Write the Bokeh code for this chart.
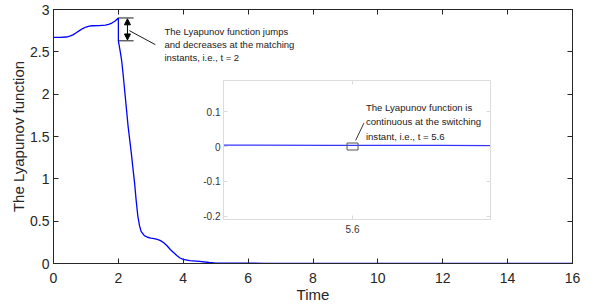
from bokeh.plotting import figure
from bokeh.models import Range1d, LinearAxis, FixedTicker, Arrow, NormalHead, ColumnDataSource
from bokeh.layouts import column
from bokeh.core.properties import value
from bokeh.embed import file_html
from bokeh.resources import INLINE

# ---------------- data ----------------
t_vals = [0, 0.2, 0.4, 0.5, 0.6, 0.7, 0.8, 0.9, 1.0, 1.1, 1.2, 1.4, 1.6, 1.7, 1.8, 1.9, 2.0,
          2.0, 2.05, 2.1, 2.15, 2.2, 2.25, 2.3, 2.35, 2.4, 2.45, 2.5, 2.55, 2.6, 2.65, 2.7,
          2.8, 2.9, 3.0, 3.1, 3.2, 3.3, 3.4, 3.5, 3.6, 3.7, 3.8, 3.9, 4.0, 4.2, 4.5, 4.8, 5.0,
          5.5, 6.0, 6.5, 7.0, 8.0, 10, 12, 14, 16]
V_vals = [2.67, 2.67, 2.675, 2.685, 2.70, 2.725, 2.75, 2.775, 2.793, 2.803, 2.808, 2.81, 2.815,
          2.825, 2.84, 2.865, 2.90,
          2.63, 2.52, 2.40, 2.22, 2.02, 1.82, 1.62, 1.46, 1.30, 1.12, 0.95, 0.74, 0.56, 0.45, 0.38,
          0.33, 0.31, 0.30, 0.295, 0.285, 0.27, 0.245, 0.21, 0.165, 0.13, 0.094, 0.065, 0.048,
          0.035, 0.025, 0.012, 0.004, 0.0035, 0.003, 0.0025, 0.002, 0.001, 0.0004, 0.0002, 0.0001, 0.0]

x_ticks = [0, 2, 4, 6, 8, 10, 12, 14, 16]
x_tick_labels = ["0", "2", "4", "6", "8", "10", "12", "14", "16"]
y_ticks = [0, 0.5, 1, 1.5, 2, 2.5, 3]
y_tick_labels = ["0", "0.5", "1", "1.5", "2", "2.5", "3"]

inset_x_ticks = [5.6]
inset_x_tick_labels = ["5.6"]
inset_y_ticks = [-0.2, -0.1, 0, 0.1]
inset_y_tick_labels = ["-0.2", "-0.1", "0", "0.1"]

jump_t = 2.0
jump_before = 2.90
jump_after = 2.63
switch_t = 5.6
switch_V = 0.0

note_main = "The Lyapunov function jumps\nand decreases at the matching\ninstants, i.e., t = 2"
note_inset = "The Lyapunov function is\ncontinuous at the switching\ninstant, i.e., t = 5.6"

FONT = "Liberation Sans"
DARK = "#262626"
BLUE = "#0000ff"

src = ColumnDataSource(dict(t=t_vals, V=V_vals))

# ---------------- main figure ----------------
p = figure(width=596, height=305, x_range=Range1d(0, 16), y_range=Range1d(0, 3),
           output_backend="svg", toolbar_location=None,
           min_border_left=53, min_border_right=24, min_border_top=9, min_border_bottom=41)
p.xgrid.visible = False
p.ygrid.visible = False
p.outline_line_color = DARK
p.background_fill_color = "white"


def style_axis(ax, ticks, labels, size, color, line_color, tick_len):
    ax.ticker = FixedTicker(ticks=ticks)
    ax.major_label_overrides = {tk: lb for tk, lb in zip(ticks, labels)}
    ax.major_label_text_font = FONT
    ax.major_label_text_font_size = size
    ax.major_label_text_color = color
    ax.axis_line_color = line_color
    ax.major_tick_line_color = line_color
    ax.major_tick_in = tick_len
    ax.major_tick_out = 0
    ax.minor_tick_line_color = None


style_axis(p.xaxis[0], x_ticks, x_tick_labels, "14px", DARK, DARK, 5)
style_axis(p.yaxis[0], y_ticks, y_tick_labels, "14px", DARK, DARK, 5)
p.xaxis[0].major_label_standoff = 9
p.yaxis[0].major_label_standoff = 4
p.xaxis.axis_label = "Time"
p.yaxis.axis_label = "The Lyapunov function"
for ax in (p.xaxis[0], p.yaxis[0]):
    ax.axis_label_text_font = FONT
    ax.axis_label_text_font_size = "15px"
    ax.axis_label_text_font_style = "normal"
    ax.axis_label_text_color = DARK
p.xaxis[0].axis_label_standoff = 0
p.yaxis[0].axis_label_standoff = 0

top_ax = LinearAxis()
style_axis(top_ax, x_ticks, ["" for _ in x_ticks], "0px", DARK, DARK, 5)
top_ax.major_label_standoff = 0
p.add_layout(top_ax, "above")
right_ax = LinearAxis()
style_axis(right_ax, y_ticks, ["" for _ in y_ticks], "0px", DARK, DARK, 5)
right_ax.major_label_standoff = 0
p.add_layout(right_ax, "right")

p.line("t", "V", source=src, line_color=BLUE, line_width=1.3)

# jump annotation
ann_t0, ann_t1, arrow_t = 2.0, 2.47, 2.28
p.segment(x0=[ann_t0, ann_t0], y0=[jump_before, jump_after],
          x1=[ann_t1, ann_t1], y1=[jump_before, jump_after], line_color="#1a1a1a", line_width=1)
p.add_layout(Arrow(x_start=arrow_t, y_start=jump_after + 0.01, x_end=arrow_t, y_end=jump_before - 0.01,
                   start=NormalHead(size=6, fill_color="black", line_color="black"),
                   end=NormalHead(size=6, fill_color="black", line_color="black"),
                   line_color="black", line_width=1))
p.segment(x0=[2.34], y0=[2.75], x1=[3.14], y1=[2.585], line_color="#1a1a1a", line_width=1)
p.text(x=[3.42], y=[2.80], text=[note_main], text_font=value(FONT), text_font_size="9.5px",
       text_color="#1a1a1a", text_baseline="top", text_align="left", text_line_height=1.17)

# ---------------- inset figure ----------------
pi = figure(width=344, height=181, x_range=Range1d(5.02, 6.22), y_range=Range1d(-0.209, 0.189),
            output_backend="svg", toolbar_location=None,
            min_border_left=50, min_border_right=20, min_border_top=20, min_border_bottom=22)
pi.xgrid.visible = False
pi.ygrid.visible = False
pi.border_fill_color = None
pi.background_fill_color = "white"
pi.outline_line_color = "#dedede"
LIGHT = "#dcdcdc"
LBL = "#333333"
style_axis(pi.xaxis[0], inset_x_ticks, inset_x_tick_labels, "10px", LBL, LIGHT, 4)
style_axis(pi.yaxis[0], inset_y_ticks, inset_y_tick_labels, "10px", LBL, LIGHT, 4)
pi.xaxis[0].major_label_standoff = 5
pi.yaxis[0].major_label_standoff = 3
it = LinearAxis()
style_axis(it, inset_x_ticks, ["" for _ in inset_x_ticks], "0px", LBL, LIGHT, 4)
it.major_label_standoff = 0
pi.add_layout(it, "above")
ir = LinearAxis()
style_axis(ir, inset_y_ticks, ["" for _ in inset_y_ticks], "0px", LBL, LIGHT, 4)
ir.major_label_standoff = 0
pi.add_layout(ir, "right")

pi.line("t", "V", source=src, line_color="#3535ff", line_width=1.3)
pi.rect(x=[switch_t], y=[switch_V], width=11, height=7, width_units="screen", height_units="screen",
        fill_color=None, line_color="#555555", line_width=1)
pi.segment(x0=[5.614], y0=[0.0176], x1=[5.651], y1=[0.067], line_color="#333333", line_width=1)
pi.text(x=[5.66], y=[0.127], text=[note_inset], text_font=value(FONT), text_font_size="9.6px",
        text_color="#1a1a1a", text_baseline="top", text_align="left", text_line_height=1.3)

# overlay the inset on the main figure (inset canvas at x=170, y=60)
pi.margin = (-245, 0, 64, 170)

layout = column(p, pi, spacing=0)
open("out.html", "w").write(file_html(layout, INLINE))
